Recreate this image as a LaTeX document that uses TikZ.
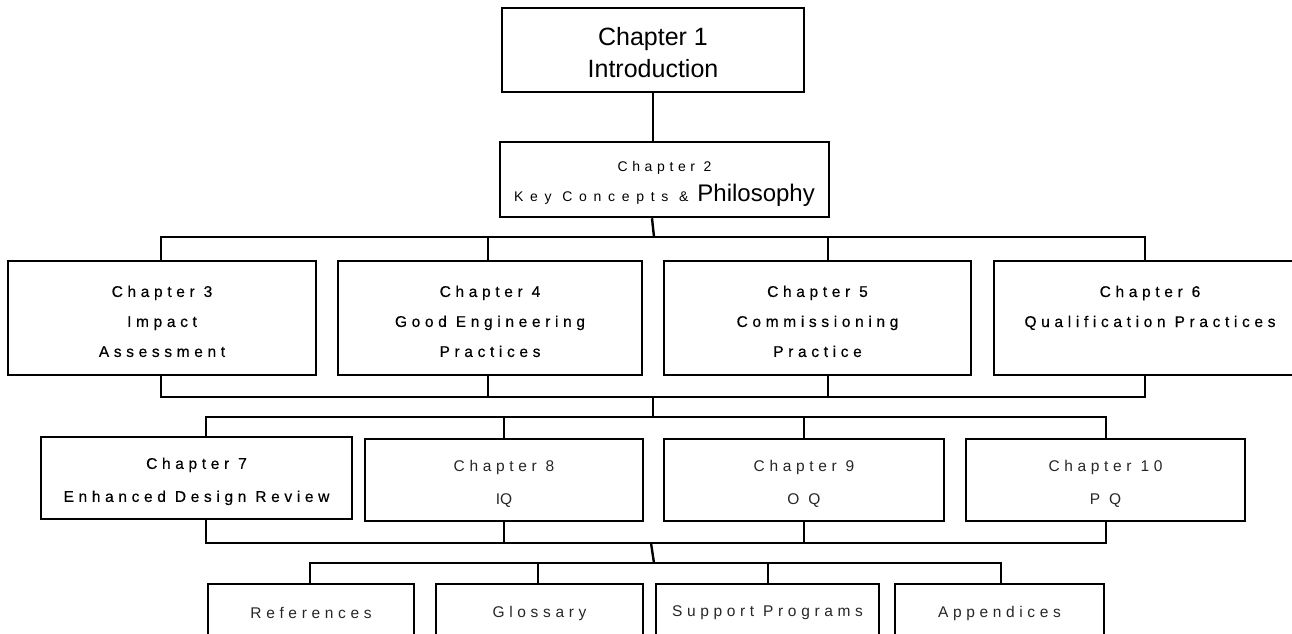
\documentclass[tikz,border=0pt]{standalone}
\usepackage{fontspec}
\setmainfont{Liberation Sans}
\newfontfamily\widefont[LetterSpace=30,FakeBold=0.5]{Liberation Sans}
\newfontfamily\thinwidefont[LetterSpace=30]{Liberation Sans}
\newfontfamily\chtwofont[LetterSpace=33]{Liberation Sans}
\newfontfamily\keyfont[LetterSpace=48]{Liberation Sans}
\definecolor{lighttext}{gray}{0.15}
\newcommand\lift[1]{\rule{0pt}{#1}}
\begin{document}
\begin{tikzpicture}[x=1pt,y=-1pt,line width=2.4pt,
  box/.style={draw,rectangle,inner sep=0pt,align=center,line width=2.5pt},
  bigtxt/.style={font=\fontsize{25}{32}\selectfont},
  midtxt/.style={font=\fontsize{14}{30}\selectfont},
  chtxt/.style={font=\widefont\fontsize{15.5}{30}\selectfont},
  chtxtb/.style={font=\widefont\fontsize{15.5}{33}\selectfont},
  lighttxt/.style={font=\thinwidefont\fontsize{15.5}{33}\selectfont,text=lighttext},
  conn/.style={draw,line width=2.4pt}]
\useasboundingbox (0,0) rectangle (1292,633);
\clip (0,0) rectangle (1292,633);

% level 1 and 2
\node[box,bigtxt,minimum width=302pt,minimum height=84pt] (c1) at (653,50) {\lift{24pt}Chapter 1\\Introduction};
\node[box,midtxt,minimum width=329pt,minimum height=75pt] (c2) at (664.5,179.5)
  {\lift{19pt}{\chtwofont Chapter 2}\\{\keyfont Key Concepts \&}\hspace{9pt}{\fontsize{24}{30}\selectfont Philosophy}};

% level 3
\node[box,chtxt,minimum width=308pt,minimum height=114pt] (c3) at (162,318) {\lift{18pt}Chapter 3\\Impact\\Assessment};
\node[box,chtxt,minimum width=304pt,minimum height=114pt] (c4) at (490,318) {\lift{18pt}Chapter 4\\Good Engineering\\Practices};
\node[box,chtxt,minimum width=307pt,minimum height=114pt] (c5) at (817.5,318) {\lift{18pt}Chapter 5\\Commissioning\\Practice};
\node[box,chtxt,minimum width=312pt,minimum height=114pt] (c6) at (1150,318) {\lift{18pt}Chapter 6\\Qualification Practices\\\mbox{}};

% level 4
\node[box,chtxtb,minimum width=311pt,minimum height=82pt] (c7) at (196.5,478) {\lift{18pt}Chapter 7\\Enhanced Design Review};
\node[box,lighttxt,minimum width=278pt,minimum height=82pt] (c8) at (504,480) {\lift{18pt}Chapter 8\\{\rmfamily IQ}};
\node[box,lighttxt,minimum width=280pt,minimum height=82pt] (c9) at (804,480) {\lift{18pt}Chapter 9\\O Q};
\node[box,lighttxt,minimum width=279pt,minimum height=82pt] (c10) at (1105.5,480) {\lift{18pt}Chapter 10\\P Q};

% level 5
\node[box,lighttxt,minimum width=206pt,minimum height=58pt] (r1) at (311,613) {References};
\node[box,lighttxt,minimum width=207pt,minimum height=58pt] (r2) at (539.5,613) {Glossary};
\node[box,lighttxt,minimum width=223pt,minimum height=58pt] (r3) at (767.5,613) {Support Programs};
\node[box,lighttxt,minimum width=209pt,minimum height=58pt] (r4) at (999.5,613) {Appendices};

% connectors level 1-2
\draw[conn] (c1.south) -- (c1.south |- c2.north);
\coordinate (s2) at (652,0);
\coordinate (a0) at (654,237);
\draw[conn] (c2.south -| s2) -- (a0);

% bus 1
\coordinate (a3) at (161,237);
\coordinate (a4) at (488,237);
\coordinate (a5) at (828,237);
\coordinate (a6) at (1145,237);
\draw[conn] (a3 |- c3.north) -- (a3) -- (a6) -- (a6 |- c6.north);
\draw[conn] (a4) -- (a4 |- c4.north);
\draw[conn] (a5) -- (a5 |- c5.north);

% bus 2
\coordinate (d3) at (161,397);
\coordinate (d4) at (488,397);
\coordinate (d5) at (828,397);
\coordinate (d6) at (1145,397);
\draw[conn] (d3 |- c3.south) -- (d3) -- (d6) -- (d6 |- c6.south);
\draw[conn] (d4 |- c4.south) -- (d4);
\draw[conn] (d5 |- c5.south) -- (d5);

% link bus 2 to bus 3
\coordinate (m2) at (653,397);
\coordinate (m3) at (653,417);
\draw[conn] (m2) -- (m3);

% bus 3
\coordinate (e7) at (206,417);
\coordinate (e8) at (504,417);
\coordinate (e9) at (804,417);
\coordinate (e10) at (1106,417);
\draw[conn] (e7 |- c7.north) -- (e7) -- (e10) -- (e10 |- c10.north);
\draw[conn] (e8) -- (e8 |- c8.north);
\draw[conn] (e9) -- (e9 |- c9.north);

% bus 4
\coordinate (f7) at (206,543);
\coordinate (f8) at (504,543);
\coordinate (f9) at (804,543);
\coordinate (f10) at (1106,543);
\draw[conn] (f7 |- c7.south) -- (f7) -- (f10) -- (f10 |- c10.south);
\draw[conn] (f8 |- c8.south) -- (f8);
\draw[conn] (f9 |- c9.south) -- (f9);

% link bus 4 to bus 5
\coordinate (n4) at (651,543);
\coordinate (n5) at (654,563);
\draw[conn] (n4) -- (n5);

% bus 5
\coordinate (g1) at (310,563);
\coordinate (g2) at (538,563);
\coordinate (g3) at (768,563);
\coordinate (g4) at (1001,563);
\draw[conn] (g1 |- r1.north) -- (g1) -- (g4) -- (g4 |- r4.north);
\draw[conn] (g2) -- (g2 |- r2.north);
\draw[conn] (g3) -- (g3 |- r3.north);
\end{tikzpicture}
\end{document}
